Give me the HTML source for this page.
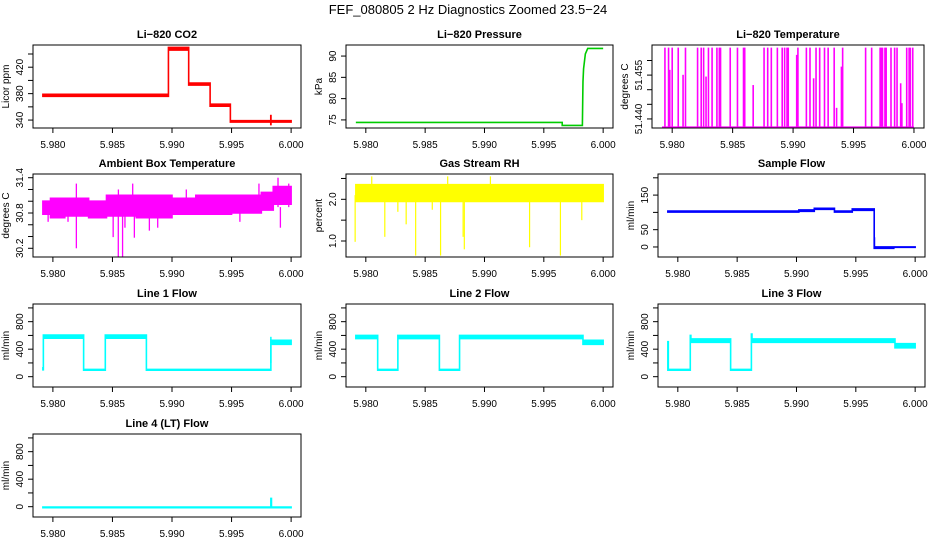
<!DOCTYPE html>
<html><head><meta charset="utf-8"><style>
html,body{margin:0;padding:0;background:#fff;}
svg{display:block;font-family:"Liberation Sans",Arial,sans-serif;}
</style></head><body>
<svg id="chart" width="936" height="540" viewBox="0 0 936 540" xmlns="http://www.w3.org/2000/svg">
<rect x="0" y="0" width="936" height="540" fill="#fff"/>
<text x="468" y="14" text-anchor="middle" font-size="13">FEF_080805  2 Hz Diagnostics Zoomed 23.5−24</text>
</svg>
<script>
// ---- shared axis data ----
const xTicks = [5.980, 5.985, 5.990, 5.995, 6.000];
const xTickLabels = ["5.980", "5.985", "5.990", "5.995", "6.000"];
const xMin = 5.97833, xMax = 6.00083;

// ---- CO2 ----
const co2T = [5.97916, 5.9897, 5.9914, 5.9932, 5.9949, 6.0];
const co2Lo = [376, 446, 393, 361, 337];
const co2Hi = [379, 450, 396, 364, 339];
const co2SpikeT = [5.9983, 5.9983];
const co2SpikeV = [348, 332];

// ---- Pressure ----
const presT = [5.97916, 5.99655, 5.99655, 5.99825, 5.99828, 5.9983, 5.99835, 5.9985, 5.9987, 6.0];
const presV = [74.4, 74.4, 73.7, 73.7, 80, 84, 87, 90.5, 91.8, 91.8];

// ---- Li-820 Temperature ----
const tempBase = 51.4372;
const tempT = [5.9794,5.9797,5.9798,5.9800,5.9805,5.9809,5.9811,5.9821,5.9824,5.9826,5.9828,5.9830,5.9833,5.9837,5.9839,5.9840,5.9848,5.9854,5.9859,5.9860,5.9867,5.9876,5.9879,5.9882,5.9887,5.9891,5.9893,5.9895,5.9896,5.9903,5.9904,5.9911,5.9914,5.9917,5.9919,5.9922,5.9926,5.9929,5.9934,5.9936,5.9940,5.9941,5.9960,5.9965,5.9972,5.9973,5.9974,5.9976,5.9977,5.9981,5.9984,5.9986,5.9989,5.9990,5.9994,5.9996,5.9997,5.9999];
const tempV = [51.4644,51.4644,51.4568,51.4644,51.4644,51.4551,51.4644,51.4644,51.4644,51.4644,51.4545,51.4644,51.4644,51.4644,51.4644,51.4644,51.4644,51.4644,51.4644,51.4644,51.4516,51.4644,51.4644,51.4644,51.4644,51.4644,51.4644,51.4644,51.4644,51.4619,51.4644,51.4644,51.4644,51.4539,51.4644,51.4644,51.4644,51.4644,51.4644,51.4438,51.4579,51.4644,51.4644,51.4644,51.4644,51.4644,51.4644,51.4644,51.4644,51.4644,51.4644,51.4644,51.4522,51.4454,51.4644,51.4644,51.4644,51.4644];

// ---- Ambient box temperature ----
const ambT = [5.97916,5.9798,5.9810,5.9830,5.9845,5.9870,5.9900,5.9920,5.9950,5.9975,5.9985,6.0];
const ambLo = [30.78,30.72,30.75,30.72,30.75,30.72,30.78,30.78,30.80,30.85,30.95];
const ambHi = [31.00,31.05,31.05,31.00,31.10,31.10,31.05,31.10,31.10,31.15,31.25];
const ambSpikeT = [5.98197,5.98549,5.98585,5.98506,5.98605,5.98684,5.9881,5.9888,5.98127,5.9796,5.9957,5.9991,5.98197,5.9867,5.9855,5.9973,5.9989,5.9998,5.9912];
const ambSpikeV = [30.2,30.06,30.06,30.39,30.55,30.38,30.5,30.55,30.65,30.65,30.65,30.55,31.3,31.3,31.2,31.3,31.4,31.3,31.2];

// ---- Gas stream RH ----
const rhT = [5.97916, 5.985, 5.990, 5.995, 6.0];
const rhLo = [1.95, 1.95, 1.95, 1.95];
const rhHi = [2.35, 2.35, 2.35, 2.35];
const rhSpikeT = [5.9791,5.9816,5.9834,5.9842,5.9863,5.9882,5.9883,5.9938,5.9964,5.9982,5.9827,5.9856,5.9805,5.9869,5.9905];
const rhSpikeV = [0.98,1.1,1.4,0.65,0.65,1.1,0.8,0.85,0.65,1.5,1.7,1.75,2.55,2.55,2.55];

// ---- Sample flow ----
const sfT = [5.97916,5.9902,5.9915,5.9932,5.9947,5.99655,5.9982,6.0];
const sfLo = [101,103,109,101,106,-4,-1];
const sfHi = [104,107,112,104,110,0,0];
const sfSpikeT = [5.99658];
const sfSpikeV = [28];

// ---- Line flows ----
const l1T = [5.97916,5.9792,5.98258,5.9844,5.98785,5.9983,6.0];
const l1Lo = [100,560,95,560,95,470];
const l1Hi = [130,605,105,605,105,530];
const l1SpikeT = [5.9983]; const l1SpikeV = [580];
const l2T = [5.97916,5.9810,5.9827,5.9862,5.9879,5.9983,6.0];
const l2Lo = [555,95,555,95,555,470];
const l2Hi = [600,105,600,105,600,530];
const l3T = [5.97916,5.9792,5.98105,5.9811,5.98445,5.9862,5.98625,5.9983,6.0];
const l3Lo = [95,95,520,500,95,530,500,420];
const l3Hi = [510,105,600,550,105,620,550,480];
const l4T = [5.97916,5.9983,5.99835,6.0];
const l4Lo = [-15,-15,-15];
const l4Hi = [-5,120,-5];

const flowTicks = [0,200,400,600,800,1000];
const flowLabels = ["0","","400","","800",""];

const NS = "http://www.w3.org/2000/svg";
const svg = document.getElementById('chart');
function mk(tag, attrs, parent) {
  const e = document.createElementNS(NS, tag);
  for (const k in attrs) e.setAttribute(k, attrs[k]);
  (parent || svg).appendChild(e);
  return e;
}

function panel(p) {
  const g = mk('g', {});
  
  
  const L = p.x, T = p.y, W = p.w || 267, H = 83;
  const sx = v => L + (v - xMin) / (xMax - xMin) * W;
  const sy = v => T + H - (v - p.ylim[0]) / (p.ylim[1] - p.ylim[0]) * H;
  const t = mk('text', {x: L + W / 2, y: T - 7, 'text-anchor': 'middle', 'font-size': 11, 'font-weight': 'bold'}, g);
  t.textContent = p.title;
  
  
  const dg = mk('g', {}, g);
  
  
  if (p.band) {
    const b = p.band; let up = [], dn = [];
    for (let i = 0; i < b.lo.length; i++) {
      up.push(sx(b.t[i]) + ',' + sy(b.hi[i]), sx(b.t[i + 1]) + ',' + sy(b.hi[i]));
      dn.unshift(sx(b.t[i + 1]) + ',' + sy(b.lo[i]), sx(b.t[i]) + ',' + sy(b.lo[i]));
    }
    const poly = mk('polygon', {points: up.concat(dn).join(' '), fill: p.color, stroke: p.color, 'stroke-width': 1.6, 'stroke-linejoin': 'miter'}, dg);
    
    
  }
  if (p.line) {
    const pts = p.line.t.map((tt, i) => sx(tt) + ',' + sy(p.line.v[i])).join(' ');
    const pl = mk('polyline', {points: pts, fill: 'none', stroke: p.color, 'stroke-width': 1.6}, dg);
    
    
  }
  if (p.baseLine !== undefined) {
    const bl = mk('line', {x1: sx(5.97916), x2: sx(6.0), y1: sy(p.baseLine), y2: sy(p.baseLine), stroke: p.color, 'stroke-width': 1.5}, dg);
    
    
  }
  if (p.spikes) {
    const s = p.spikes;
    for (let i = 0; i < s.t.length; i++) {
      const ln = mk('line', {x1: sx(s.t[i]), x2: sx(s.t[i]), y1: sy(s.base), y2: sy(s.v[i]), stroke: p.color, 'stroke-width': s.w || 1.3}, dg);
      
      
    }
  }
  const box = mk('rect', {x: L, y: T, width: W, height: H, fill: 'none', stroke: '#000', 'stroke-width': 1}, g);
  
  
  const xa = mk('g', {}, g);
  
  
  xTicks.forEach((v, i) => {
    const x = sx(v);
    mk('line', {x1: x, x2: x, y1: T + H, y2: T + H + 5, stroke: '#000'}, xa);
    const tl = mk('text', {x: x, y: T + H + 20, 'text-anchor': 'middle', 'font-size': 10}, xa);
    tl.textContent = xTickLabels[i];
  });
  const ya = mk('g', {}, g);
  
  
  p.yTicks.forEach((v, i) => {
    const y = sy(v);
    mk('line', {x1: L - 5, x2: L, y1: y, y2: y, stroke: '#000'}, ya);
    if (p.yLabels[i]) {
      const tl = mk('text', {x: L - 10, y: y, 'text-anchor': 'middle', 'font-size': 10, transform: 'rotate(-90 ' + (L - 10) + ' ' + y + ')'}, ya);
      tl.textContent = p.yLabels[i];
    }
  });
  const yt = mk('text', {x: L - 24, y: T + H / 2, 'text-anchor': 'middle', 'font-size': 10, transform: 'rotate(-90 ' + (L - 24) + ' ' + (T + H / 2) + ')'}, g);
  yt.textContent = p.ylab;
  
  
}

const C = [33, 346, 658], R = [45, 174, 304, 434];

panel({name: 'co2', title: 'Li−820 CO2', ylab: 'Licor ppm', x: C[0], y: R[0], w: 268, ylim: [328, 453.6], color: '#ff0000',
  yTicks: [340, 360, 380, 400, 420, 440], yLabels: ['340', '', '380', '', '420', ''],
  band: {t: co2T, lo: co2Lo, hi: co2Hi}, spikes: {t: co2SpikeT, v: co2SpikeV, base: 338, w: 1.8}});
panel({name: 'pressure', title: 'Li−820 Pressure', ylab: 'kPa', x: C[1], y: R[0], ylim: [73.1, 92.6], color: '#00cc00',
  yTicks: [75, 80, 85, 90], yLabels: ['75', '80', '85', '90'], line: {t: presT, v: presV}});
panel({name: 'li820-temperature', title: 'Li−820 Temperature', ylab: 'degrees C', x: 652, y: R[0], w: 272, ylim: [51.4369, 51.4653], color: '#ff00ff',
  yTicks: [51.440, 51.445, 51.450, 51.455, 51.460], yLabels: ['51.440', '', '', '51.455', ''],
  baseLine: tempBase, spikes: {t: tempT, v: tempV, base: tempBase, w: 1.6}});
panel({name: 'ambient-temperature', title: 'Ambient Box Temperature', ylab: 'degrees C', x: C[0], y: R[1], w: 268, ylim: [30.052, 31.463], color: '#ff00ff',
  yTicks: [30.2, 30.4, 30.6, 30.8, 31.0, 31.2, 31.4], yLabels: ['30.2', '', '', '30.8', '', '', '31.4'],
  band: {t: ambT, lo: ambLo, hi: ambHi}, spikes: {t: ambSpikeT, v: ambSpikeV, base: 30.9, w: 1.3}});
panel({name: 'gas-stream-rh', title: 'Gas Stream RH', ylab: 'percent', x: C[1], y: R[1], ylim: [0.616, 2.607], color: '#ffff00',
  yTicks: [1.0, 1.5, 2.0, 2.5], yLabels: ['1.0', '', '2.0', ''],
  band: {t: rhT, lo: rhLo, hi: rhHi}, spikes: {t: rhSpikeT, v: rhSpikeV, base: 2.1, w: 1.2}});
panel({name: 'sample-flow', title: 'Sample Flow', ylab: 'ml/min', x: C[2], y: R[1], ylim: [-29, 211], color: '#0000ff',
  yTicks: [0, 50, 100, 150, 200], yLabels: ['0', '50', '', '150', ''],
  band: {t: sfT, lo: sfLo, hi: sfHi}, spikes: {t: sfSpikeT, v: sfSpikeV, base: 0, w: 1.3}});
panel({name: 'line1-flow', title: 'Line 1 Flow', ylab: 'ml/min', x: C[0], y: R[2], w: 268, ylim: [-150, 1057], color: '#00ffff',
  yTicks: flowTicks, yLabels: flowLabels, band: {t: l1T, lo: l1Lo, hi: l1Hi}, spikes: {t: l1SpikeT, v: l1SpikeV, base: 200, w: 1.5}});
panel({name: 'line2-flow', title: 'Line 2 Flow', ylab: 'ml/min', x: C[1], y: R[2], ylim: [-150, 1057], color: '#00ffff',
  yTicks: flowTicks, yLabels: flowLabels, band: {t: l2T, lo: l2Lo, hi: l2Hi}});
panel({name: 'line3-flow', title: 'Line 3 Flow', ylab: 'ml/min', x: C[2], y: R[2], ylim: [-150, 1057], color: '#00ffff',
  yTicks: flowTicks, yLabels: flowLabels, band: {t: l3T, lo: l3Lo, hi: l3Hi}});
panel({name: 'line4-flow', title: 'Line 4 (LT) Flow', ylab: 'ml/min', x: C[0], y: R[3], w: 268, ylim: [-150, 1057], color: '#00ffff',
  yTicks: flowTicks, yLabels: flowLabels, band: {t: l4T, lo: l4Lo, hi: l4Hi}});
</script>
</body></html>
